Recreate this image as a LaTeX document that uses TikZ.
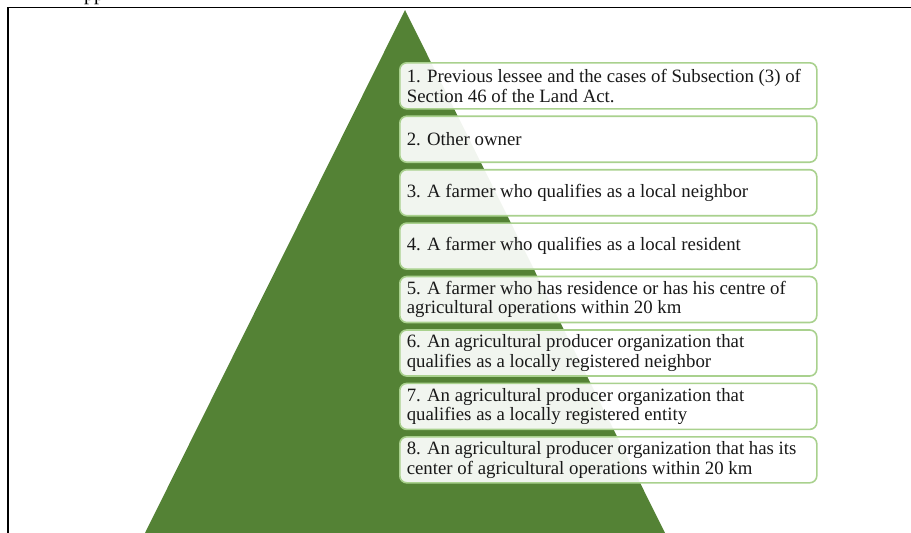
\documentclass[tikz,border=0pt]{standalone}
\usepackage{fontspec}
\setmainfont{Liberation Serif}
\usepackage{xcolor}
\definecolor{pyrgreen}{RGB}{84,130,53}
\definecolor{boxline}{RGB}{169,209,142}

\tikzset{
    tier/.style={draw=boxline, line width=1.6pt, fill=white, fill opacity=0.92, text opacity=1,
        rounded corners=7pt, anchor=north west, text width=403pt, inner xsep=7pt, inner ysep=0pt,
        minimum height=46pt, align=flush left, font=\fontsize{18.8}{19.5}\selectfont, text=black!90}
}

\begin{document}
\begin{tikzpicture}[x=1pt, y=-1pt]
            \useasboundingbox (0,0) rectangle (911,533);
            \node[anchor=base west, font=\fontsize{20}{22}\selectfont, inner sep=0pt] (caption) at (84,0.5) {pp};
            \draw[line width=1.6pt]  (8,7.5) rectangle (940,560);
            \fill[pyrgreen]  (405,10) -- (665,533) -- (145,533) -- cycle;
            \node[tier] (tier1) at (399, 62.0) {1. Previous lessee and the cases of Subsection (3) of\\ Section 46 of the Land Act.};
            \node[tier] (tier2) at (399,115.4) {2. Other owner};
            \node[tier] (tier3) at (399,168.9) {3. A farmer who qualifies as a local neighbor};
            \node[tier] (tier4) at (399,222.3) {4. A farmer who qualifies as a local resident};
            \node[tier] (tier5) at (399,275.7) {5. A farmer who has residence or has his centre of\\ agricultural operations within 20 km};
            \node[tier] (tier6) at (399,329.2) {6. An agricultural producer organization that\\ qualifies as a locally registered neighbor};
            \node[tier] (tier7) at (399,382.6) {7. An agricultural producer organization that\\ qualifies as a locally registered entity};
            \node[tier] (tier8) at (399,436.0) {8. An agricultural producer organization that has its\\ center of agricultural operations within 20 km};
        \end{tikzpicture}
\end{document}
